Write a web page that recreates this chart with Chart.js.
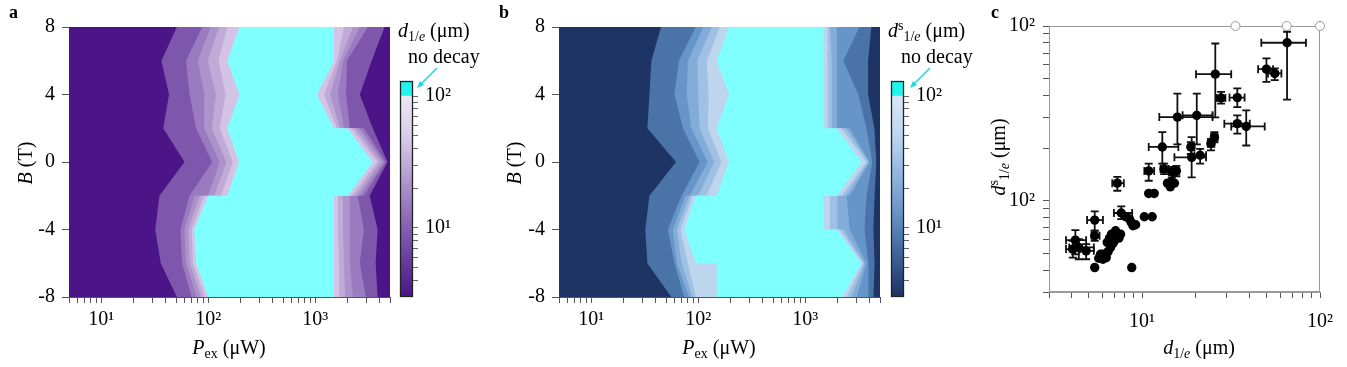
<!DOCTYPE html>
<html>
<head>
<meta charset="utf-8">
<script src="https://cdn.jsdelivr.net/npm/chart.js@4.4.1/dist/chart.umd.min.js"></script>
<style>
  html, body { margin: 0; padding: 0; background: #fff; }
  #fig { position: relative; width: 1347px; height: 367px; overflow: hidden;
         font-family: 'Liberation Serif', 'Times New Roman', serif; color: #000; }
  #fig canvas { position: absolute; top: 0; }
  .t { position: absolute; font-size: 20px; line-height: 1; white-space: nowrap; }
  .t sub, .t sup { font-size: 0.7em; line-height: 0; }
  .t sub { vertical-align: -0.32em; }
  .t sup { vertical-align: 0.5em; }
  .pl { font-weight: bold; font-size: 18px; }
  .rot { transform: translate(-50%, -50%) rotate(-90deg); }
  .hc { transform: translateX(-50%); }
</style>
</head>
<body>
<div id="fig">
  <canvas id="ca" width="395" height="367" style="left:0px;width:395px;height:367px"></canvas>
  <canvas id="cba" width="75" height="367" style="left:395px;width:75px;height:367px"></canvas>
  <canvas id="cb" width="395" height="367" style="left:490px;width:395px;height:367px"></canvas>
  <canvas id="cbb" width="85" height="367" style="left:885px;width:85px;height:367px"></canvas>
  <canvas id="cc" width="377" height="367" style="left:970px;width:377px;height:367px"></canvas>

  <svg width="1347" height="367" style="position:absolute;left:0;top:0">
    <line x1="437" y1="68" x2="421" y2="84" stroke="#22d6e6" stroke-width="1.6"/>
    <polygon points="417,88 424.1,85.1 419.9,80.9" fill="#22d6e6"/>
    <line x1="930" y1="68" x2="914" y2="84" stroke="#22d6e6" stroke-width="1.6"/>
    <polygon points="910,88 917.1,85.1 912.9,80.9" fill="#22d6e6"/>
  </svg>

  <div class="t pl" style="left:9px;top:3px">a</div>
  <div class="t pl" style="left:499px;top:3px">b</div>
  <div class="t pl" style="left:991px;top:3px">c</div>

  <div class="t rot" style="left:25px;top:163px"><i>B</i> (T)</div>
  <div class="t hc" style="left:229px;top:337px"><i>P</i><sub>ex</sub> (μW)</div>
  <div class="t" style="left:398px;top:20px"><i>d</i><sub>1/<i>e</i></sub> (μm)</div>
  <div class="t" style="left:408px;top:46px">no decay</div>

  <div class="t rot" style="left:514px;top:163px"><i>B</i> (T)</div>
  <div class="t hc" style="left:719px;top:337px"><i>P</i><sub>ex</sub> (μW)</div>
  <div class="t" style="left:888px;top:20px"><i>d</i><sup>s</sup><sub>1/<i>e</i></sub> (μm)</div>
  <div class="t" style="left:901px;top:46px">no decay</div>

  <div class="t rot" style="left:998px;top:157px"><i>d</i><sup>s</sup><sub>1/<i>e</i></sub> (μm)</div>
  <div class="t hc" style="left:1199px;top:337px"><i>d</i><sub>1/<i>e</i></sub> (μm)</div>
</div>

<script>
// ---------- panel a: d_1/e contour bands (B rows, Pex boundaries) ----------
const aRows = [-8, -6, -4, -2, -2, 0, 2, 2, 4, 6, 8];
const aL1L = [51, 36, 32, 35, 35, 60, 38, 38, 43, 36.5, 51];
const aL2L = [70, 57, 55, 67, 67, 109, 77, 77, 67, 62, 88];
const aL3L = [78, 62, 60, 75, 100, 128, 92, 92, 92, 80, 105];
const aL4L = [86, 67, 65, 84, 114, 148, 108, 108, 118, 99, 126];
const aL5L = [93, 72, 70, 92, 132, 170, 128, 128, 145, 125, 151];
const aCyL = [100, 77, 74, 100, 151, 194, 151, 151, 196, 151, 196];
const aCyR = [1500, 1500, 1500, 1500, 2020, 3450, 2020, 1500, 1040, 1500, 1500];
const aL5R = [1670, 1670, 1630, 1630, 2200, 3830, 2200, 1600, 1210, 1600, 1860];
const aL4R = [1900, 1860, 1820, 1820, 2400, 4090, 2400, 1700, 1380, 1700, 2250];
const aL3R = [2250, 2110, 2110, 2110, 2610, 4360, 2610, 1860, 1630, 1820, 2610];
const aL2R = [2970, 2610, 2850, 2500, 2850, 4540, 2850, 2110, 1940, 1980, 3100];
const aL1R = [3830, 3670, 3830, 3230, 3230, 4740, 3450, 3450, 2610, 3370, 4450];

// ---------- panel b: d^s_1/e contour bands ----------
const bRows = [-8, -6, -6, -4, -4, -2, -2, 0, 2, 2, 4, 6, 8];
const bL1L = [56, 33.5, 33.5, 32, 32, 35, 35, 62, 33.5, 33.5, 35, 36.5, 45];
const bL2L = [74, 60, 60, 52, 52, 70, 70, 103, 72, 72, 60, 66, 95];
const bL3L = [82, 63, 63, 58, 58, 76, 83, 123, 86, 86, 78, 80, 112];
const bL4L = [88, 70, 70, 63, 63, 83, 100, 141, 103, 103, 100, 98, 135];
const bL5L = [95, 80, 80, 68, 68, 89, 120, 165, 123, 123, 125, 120, 160];
const bCyL = [149, 149, 95, 74, 74, 95, 149, 194, 149, 149, 194, 149, 194];
const bCyR = [2200, 3360, 3360, 1970, 1480, 1480, 1970, 3360, 1970, 1480, 1480, 1480, 1480];
const bL5R = [2440, 3480, 3480, 2100, 1700, 1700, 2190, 3730, 2190, 1620, 1620, 1620, 1620];
const bL4R = [2700, 3580, 3580, 2270, 2000, 2000, 2400, 3900, 2400, 1770, 1770, 1770, 1700];
const bL3R = [3020, 3730, 3730, 2600, 2600, 2440, 2600, 4000, 2600, 1970, 1970, 1970, 1970];
const bL2R = [3900, 3900, 3900, 3580, 3580, 3735, 3735, 4240, 3735, 3735, 3130, 2270, 3215];
const bL1R = [4340, 4450, 4450, 4340, 4340, 4450, 4450, 4620, 4430, 4430, 3870, 3870, 4150];

// axis ticks
const pexTicks = [5, 6, 7, 8, 9, 10, 20, 30, 40, 50, 60, 70, 80, 90, 100, 200, 300, 400, 500, 600, 700, 800, 900, 1000, 2000, 3000, 4000, 5000];
const pexMajor = [10, 100, 1000];
const pexMajorLabels = ['10¹', '10²', '10³'];
const cbTicks = [4, 5, 6, 7, 8, 9, 10, 20, 30, 40, 50, 60, 70, 80, 90, 100];
const cbMajor = [10, 100];
const cbMajorLabels = ['10¹', '10²'];
const cTicks = [3, 4, 5, 6, 7, 8, 9, 10, 20, 30, 40, 50, 60, 70, 80, 90, 100];
const cMajor = [10, 100];
const cXLabels = ['10¹', '10²'];
const cYLabels = ['10²', '10²'];

// ---------- panel c: d^s vs d scatter ----------
const cX   = [65.3, 50, 55.7, 25.8, 27.8, 34.3, 15.8, 20.3, 34.3, 38.5, 13.0, 18.8, 19.0, 21.2, 24.4, 25.5, 13.3, 14.7, 15.6, 10.9, 7.26, 7.64, 5.42, 5.42, 4.22, 4.41, 4.08, 4.85];
const cY   = [80.2, 56.6, 53.5, 53, 38.7, 38.9, 30.1, 30.8, 27.6, 26.6, 20.3, 20.3, 17.7, 18.2, 21.2, 23.1, 15.2, 14.6, 14.8, 14.8, 12.6, 8.5, 7.74, 6.3, 5.94, 5.4, 5.28, 5.16];
const cXLo = [46.8, 44.9, 51, 20.1, 26.3, 31, 12.5, 16.9, 29, 31.7, 10.9, 18.3, 15.2, 19.7, 23.4, 24.4, 12.7, 14.2, 15.1, 10.3, 6.8, 6.95, 4.91, 5.2, 3.74, 3.9, 3.74, 4.41];
const cXHi = [83.4, 54.5, 60.7, 31.7, 29.4, 37.7, 24.9, 24.9, 40.3, 48.9, 16.0, 19.7, 22.9, 22.9, 25.5, 26.6, 14.1, 15.2, 16.1, 11.7, 7.9, 8.8, 6.03, 5.77, 4.85, 5.36, 4.5, 5.36];
const cYLo = [37.9, 47.9, 49, 30, 35.9, 34.3, 21, 21, 24.2, 20.7, 16.3, 18.5, 13.6, 16.3, 19.4, 21.6, 14.2, 13.6, 13.8, 13.0, 11.4, 7.85, 6.73, 5.89, 4.93, 4.62, 4.72, 4.62];
const cYHi = [92.7, 65.2, 57.2, 79.4, 42, 43.9, 41, 41, 30.8, 32.9, 24.7, 21.6, 23.1, 19.8, 22.6, 24.7, 16.3, 15.6, 15.8, 16.3, 13.7, 9.27, 8.69, 6.73, 6.78, 6.03, 5.89, 5.64];
const cBareX = [13.9, 14.7, 14.4, 15.2, 10.9, 11.7, 10.3, 11.4, 8.09, 8.5, 8.9, 9.2, 8.7, 5.71, 6.03, 6.29, 6.23, 6.45, 6.65, 6.86, 7.16, 6.95, 7.35, 7.41, 6.56, 6.74, 7.1, 6.03, 5.84, 6.37, 7.57, 5.42, 8.75];
const cBareY = [12.6, 12.8, 12.0, 12.6, 11.0, 11.0, 8.09, 8.09, 8.09, 7.85, 7.18, 7.28, 7.5, 4.68, 4.62, 4.72, 4.93, 5.11, 5.4, 5.69, 6.1, 5.84, 6.43, 6.1, 6.1, 6.43, 6.73, 4.93, 4.93, 5.77, 6.43, 4.14, 4.14];
const ndX = [33.5, 65, 100];
const ndY = [100, 100, 100];

// colours
const aBase = '#4b1587';
const aColors = ['#7e57ad', '#9a7bc0', '#ad93cb', '#c0aad7', '#d3c4e5', '#80ffff'];
const bBase = '#1d3464';
const bColors = ['#4a74a8', '#6696c9', '#83acd8', '#a0c1e4', '#bed5ee', '#80ffff'];
const aStops = ['#4b1587', '#6a40a1', '#8f6cb9', '#b49dd0', '#d9cde9', '#ece6f5'];
const bStops = ['#1b3263', '#3c6198', '#6390c4', '#8fb3dd', '#bcd5ef', '#d8e7f7'];
const cbCyan = '#1ff5ec';
const cbMin = 3, cbMax = 100, cbTop = 130;

Chart.defaults.font.family = "'Liberation Serif', 'Times New Roman', serif";
Chart.defaults.font.size = 20;
Chart.defaults.color = '#000';
Chart.defaults.plugins.legend.display = false;
Chart.defaults.plugins.tooltip.enabled = false;

const bgPlugin = {
  id: 'bg',
  beforeDatasetsDraw(chart, args, opts) {
    if (!opts.color) return;
    const a = chart.chartArea, c = chart.ctx;
    c.save();
    c.fillStyle = opts.color;
    c.fillRect(a.left, a.top, a.right - a.left, a.bottom - a.top);
    c.restore();
  }
};

function strokeFrame(chart, opts) {
  const a = chart.chartArea, c = chart.ctx;
  c.save();
  c.strokeStyle = opts.color;
  c.lineWidth = opts.width || 1;
  c.strokeRect(a.left + 0.5, a.top + 0.5, a.right - a.left - 1, a.bottom - a.top - 1);
  c.restore();
}
const framePlugin = {
  id: 'frame',
  beforeDatasetsDraw(chart, args, opts) { if (opts.color && !opts.onTop) strokeFrame(chart, opts); },
  afterDatasetsDraw(chart, args, opts) { if (opts.color && opts.onTop) strokeFrame(chart, opts); }
};

const errorBarPlugin = {
  id: 'errorBars',
  beforeDatasetsDraw(chart) {
    const {ctx, scales: {x, y}} = chart;
    const cap = 4;
    ctx.save();
    ctx.strokeStyle = '#111';
    ctx.lineWidth = 1.8;
    cX.forEach((v, i) => {
      const px = x.getPixelForValue(v), py = y.getPixelForValue(cY[i]);
      const x0 = x.getPixelForValue(cXLo[i]), x1 = x.getPixelForValue(cXHi[i]);
      const y0 = y.getPixelForValue(cYLo[i]), y1 = y.getPixelForValue(cYHi[i]);
      ctx.beginPath();
      ctx.moveTo(x0, py); ctx.lineTo(x1, py);
      ctx.moveTo(px, y0); ctx.lineTo(px, y1);
      ctx.moveTo(x0, py - cap); ctx.lineTo(x0, py + cap);
      ctx.moveTo(x1, py - cap); ctx.lineTo(x1, py + cap);
      ctx.moveTo(px - cap, y0); ctx.lineTo(px + cap, y0);
      ctx.moveTo(px - cap, y1); ctx.lineTo(px + cap, y1);
      ctx.stroke();
    });
    ctx.restore();
  }
};

function tickLabel(majors, labels, v) {
  const i = majors.indexOf(v);
  return i < 0 ? '' : labels[i];
}

// left boundary going up, right boundary coming back down
function polygon(rows, left, right) {
  const pts = rows.map((b, i) => ({x: left[i], y: b}));
  for (let i = rows.length - 1; i >= 0; i--) pts.push({x: right[i], y: rows[i]});
  return pts;
}

function contourPanel(id, rows, lefts, rights, colors, base, padRight) {
  const datasets = lefts.map((left, k) => ({
    data: polygon(rows, left, rights[k]),
    showLine: true,
    fill: 'shape',
    backgroundColor: colors[k],
    borderWidth: 0,
    pointRadius: 0,
    order: lefts.length - k
  }));
  return new Chart(document.getElementById(id), {
    type: 'scatter',
    data: { datasets },
    options: {
      responsive: false, animation: false, events: [], devicePixelRatio: 1,
      layout: { padding: { top: 27, right: padRight, left: 0, bottom: 0 } },
      plugins: { bg: { color: base } },
      scales: {
        x: {
          type: 'logarithmic', min: 5, max: 5000, z: 1,
          afterBuildTicks: s => { s.ticks = pexTicks.map(v => ({value: v})); },
          afterFit: s => { s.height = 70; },
          ticks: { autoSkip: false, maxRotation: 0, minRotation: 0, padding: 5,
                   callback: v => tickLabel(pexMajor, pexMajorLabels, v) },
          grid: { drawOnChartArea: false, tickLength: 6, color: '#555' },
          border: { color: '#555' }
        },
        y: {
          type: 'linear', min: -8, max: 8, z: 1,
          afterFit: s => { s.width = 69; },
          ticks: { stepSize: 4, padding: 7 },
          grid: { drawOnChartArea: false, tickLength: 7, color: '#555' },
          border: { color: '#555' }
        }
      }
    },
    plugins: [bgPlugin]
  });
}

function gradient(chart, stops) {
  const a = chart.chartArea;
  if (!a) return stops[0];
  const y = chart.scales.y;
  const g = chart.ctx.createLinearGradient(0, y.getPixelForValue(cbMin), 0, y.getPixelForValue(cbMax));
  stops.forEach((c, i) => g.addColorStop(i / (stops.length - 1), c));
  return g;
}

function colorbar(id, stops, padLeft, axisW) {
  return new Chart(document.getElementById(id), {
    type: 'bar',
    data: {
      labels: [''],
      datasets: [
        { data: [[cbMin, cbMax]], backgroundColor: c => gradient(c.chart, stops),
          grouped: false, barPercentage: 1, categoryPercentage: 1, borderWidth: 0 },
        { data: [[cbMax, cbTop]], backgroundColor: cbCyan,
          grouped: false, barPercentage: 1, categoryPercentage: 1, borderWidth: 0 }
      ]
    },
    options: {
      responsive: false, animation: false, events: [], devicePixelRatio: 1,
      layout: { padding: { top: 81, bottom: 70, left: padLeft, right: 0 } },
      plugins: { frame: { color: '#222', width: 1.3, onTop: true } },
      scales: {
        x: { display: false },
        y: {
          type: 'logarithmic', position: 'right', min: cbMin, max: cbTop,
          afterBuildTicks: s => { s.ticks = cbTicks.map(v => ({value: v})); },
          afterFit: s => { s.width = axisW; },
          ticks: { autoSkip: false, padding: 7, callback: v => tickLabel(cbMajor, cbMajorLabels, v) },
          grid: { drawOnChartArea: false, tickLength: 5, color: '#666' },
          border: { display: false }
        }
      }
    },
    plugins: [framePlugin]
  });
}

contourPanel('ca', aRows, [aL1L, aL2L, aL3L, aL4L, aL5L, aCyL], [aL1R, aL2R, aL3R, aL4R, aL5R, aCyR], aColors, aBase, 3);
colorbar('cba', aStops, 5, 57);
contourPanel('cb', bRows, [bL1L, bL2L, bL3L, bL4L, bL5L, bCyL], [bL1R, bL2R, bL3R, bL4R, bL5R, bCyR], bColors, bBase, 2);
colorbar('cbb', bStops, 6, 66);

const dot = { pointRadius: 4.7, backgroundColor: '#000', borderWidth: 0 };
new Chart(document.getElementById('cc'), {
  type: 'scatter',
  data: {
    datasets: [
      Object.assign({ data: cX.map((x, i) => ({x, y: cY[i]})) }, dot),
      Object.assign({ data: cBareX.map((x, i) => ({x, y: cBareY[i]})) }, dot),
      { data: ndX.map((x, i) => ({x, y: ndY[i]})), pointRadius: 4.5,
        backgroundColor: '#fff', borderColor: '#999', borderWidth: 1, clip: false }
    ]
  },
  options: {
    responsive: false, animation: false, events: [], devicePixelRatio: 1,
    layout: { padding: { top: 26, right: 27, left: 0, bottom: 0 } },
    plugins: { frame: { color: '#999', width: 1 } },
    scales: {
      x: {
        type: 'logarithmic', min: 3, max: 100,
        afterBuildTicks: s => { s.ticks = cTicks.map(v => ({value: v})); },
        afterFit: s => { s.height = 75; },
        ticks: { autoSkip: false, maxRotation: 0, minRotation: 0, padding: 12,
                 callback: v => tickLabel(cMajor, cXLabels, v) },
        grid: { drawOnChartArea: false, tickLength: 6, color: '#555' },
        border: { color: '#999' }
      },
      y: {
        type: 'logarithmic', min: 3, max: 100,
        afterBuildTicks: s => { s.ticks = cTicks.map(v => ({value: v})); },
        afterFit: s => { s.width = 79; },
        ticks: { autoSkip: false, padding: 8, callback: v => tickLabel(cMajor, cYLabels, v) },
        grid: { drawOnChartArea: false, tickLength: 6, color: '#555' },
        border: { color: '#999' }
      }
    }
  },
  plugins: [framePlugin, errorBarPlugin]
});
</script>
</body>
</html>
